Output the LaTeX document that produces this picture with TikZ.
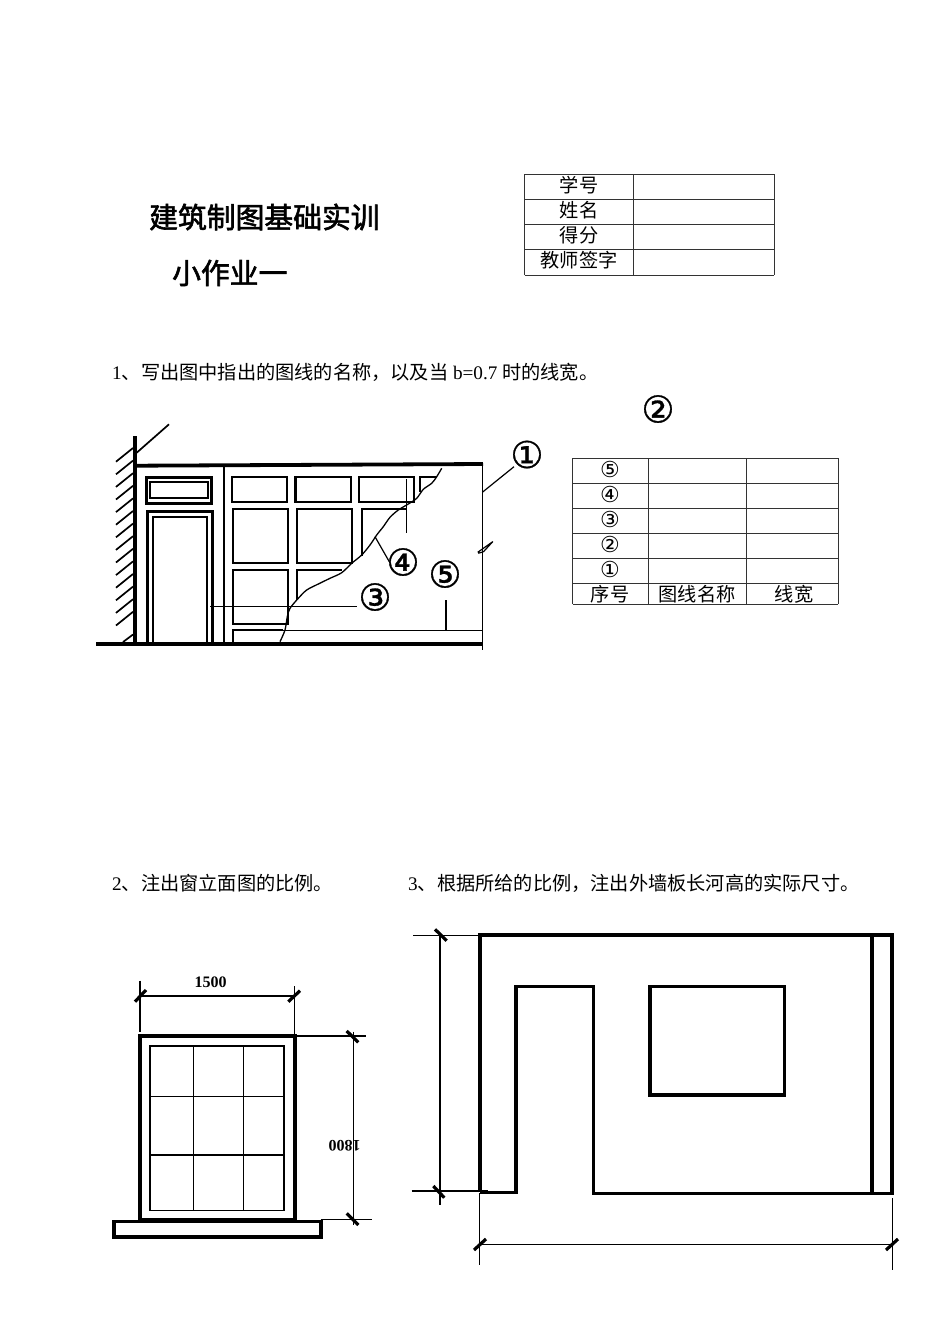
\documentclass[tikz,border=0pt]{standalone}
\usepackage{fontspec}
\setmainfont{Liberation Serif}
\newfontfamily\cjk{Noto Sans CJK SC}
\newfontfamily\cjktitle[FakeBold=2]{Noto Sans CJK SC}
\newfontfamily\circfont{DejaVu Sans}
\newfontfamily\circbold[FakeBold=0.8]{DejaVu Sans}
\newcommand{\bodysz}{\fontsize{19.2}{23}\selectfont}
\begin{document}
\begin{tikzpicture}[x=1pt,y=-1pt,
  thin line/.style={line width=1.2pt},
  med line/.style={line width=1.7pt},
  frame line/.style={line width=3pt},
  pane line/.style={line width=2.2pt},
  heavy line/.style={line width=3.8pt,line cap=butt},
  tick line/.style={line width=3.2pt},
  grid line/.style={line width=0.9pt,black!80},
  body text/.style={inner sep=0pt,anchor=west,font=\bodysz},
  title text/.style={inner sep=0pt,anchor=west,font=\cjktitle\fontsize{28.8}{32}\selectfont},
  cell text/.style={inner sep=0pt,font=\cjk\bodysz},
  cell num/.style={inner sep=0pt,font=\circfont\fontsize{22}{24}\selectfont},
  big num/.style={inner sep=0pt,font=\circbold\fontsize{37}{40}\selectfont},
  dim text/.style={inner sep=0pt,font=\bfseries\fontsize{16}{18}\selectfont}]
\useasboundingbox[fill=white] (0,0) rectangle (950,1342);

% ---------- Titles
\node[title text] (t1) at (149,217) {建筑制图基础实训};
\node[title text] (t2) at (172,273) {小作业一};

% ---------- Top-right table
\foreach \yy in {174,199.5,224.5,249.5,275} \draw[grid line] (524.5,\yy) -- (774,\yy);
\foreach \xx in {524.5,633,774} \draw[grid line] (\xx,174) -- (\xx,275);
\node[cell text] (a1) at (579,185) {学号};
\node[cell text] (a2) at (579,210) {姓名};
\node[cell text] (a3) at (579,235) {得分};
\node[cell text] (a4) at (579,260) {教师签字};

% ---------- Question texts
\node[body text] (q1) at (112,372) {1{\cjk 、写出图中指出的图线的名称，以及当} b=0.7 {\cjk 时的线宽。}};
\node[body text] (q2) at (112,883) {2{\cjk 、注出窗立面图的比例。}};
\node[body text] (q3) at (408,883) {3{\cjk 、根据所给的比例，注出外墙板长河高的实际尺寸。}};

% ---------- Right table of question 1
\foreach \yy in {458,483,508,533,558,583.5,604} \draw[grid line] (572.5,\yy) -- (838,\yy);
\foreach \xx in {572.5,648,746,838} \draw[grid line] (\xx,458) -- (\xx,604);
\node[cell num] (n5) at (610,469.5) {⑤};
\node[cell num] (n4) at (610,494) {④};
\node[cell num] (n3) at (610,519) {③};
\node[cell num] (n2) at (610,544) {②};
\node[cell num] (n1) at (610,569) {①};
\node[cell text] (h1) at (610,594) {序号};
\node[cell text] (h2) at (697,594) {图线名称};
\node[cell text] (h3) at (794,594) {线宽};

% ---------- Big callouts
\node[big num] (c1) at (527,454.5) {①};
\node[big num] (c2) at (658,409) {②};
\node[big num] (c3) at (375,597) {③};
\node[big num] (c4) at (403,562) {④};
\node[big num] (c5) at (445,574) {⑤};

% ---------- Facade: wall and hatching
\draw[heavy line] (135,436) -- (135,646);
\draw[heavy line] (136,465.7) -- (483,464);
\draw[line width=4pt] (96,644) -- (483,644);
\foreach \k in {0,...,13}
  \draw[med line] (116,461.7+\k*12.6) -- (133,448+\k*12.6);
\draw[med line] (123,642) -- (133,634.5);
\draw[med line] (136.7,452.7) -- (169,424.3);
\draw[med line] (224,466) -- (224,644);

% door and transom
\draw[frame line] (146.7,477.7) rectangle (211.3,503);
\draw[med line] (150.3,482.3) rectangle (207.7,498);
\draw[frame line] (147.7,644) -- (147.7,511.7) -- (212,511.7) -- (212,644);
\draw[med line] (152.7,644) -- (152.7,517) -- (206.7,517) -- (206.7,644);

% windows
\draw[pane line] (231.7,476.7) rectangle (286.7,501.7);
\draw[pane line] (295.5,476.7) rectangle (351,501.7);
\draw[pane line] (358.7,476.7) rectangle (414,501.7);
\draw[pane line] (437,476.7) -- (420,476.7) -- (420,491.5);
\draw[pane line] (232.7,508.7) rectangle (288.3,563.3);
\draw[pane line] (297,509) rectangle (352.3,563.3);
\draw[pane line] (406,509) -- (361.7,509) -- (361.7,556);
\draw[pane line] (232.7,570) rectangle (288.3,624);
\draw[pane line] (341.7,570) -- (297,570) -- (297,600);
\draw[pane line] (233.3,644) -- (233.3,630) -- (283,630);
\draw[thin line] (283,630.5) -- (483,630.5);

% crack
\draw[line width=1.3pt,line join=round] plot[smooth,tension=0.5] coordinates {
 (441.7,468.3) (436.7,476.7) (431.7,483.3) (423.3,489.3) (416.7,498.3) (408.3,504)
 (398.3,510) (390,517.3) (383.3,526.7) (376.7,535) (370,545) (361.7,555) (351.7,563.3)
 (341.7,572.7) (330,578.3) (318.3,584) (306.7,590) (298.3,598.3) (290,608.3) (287.3,616.7)
 (285,630) (280,641.7)};

% right edge, break mark and leaders
\draw[line width=1.4pt] (482.3,463) -- (482.3,650);
\draw[thin line,line join=round] (477.7,552.3) -- (492.7,541.7) -- (483.5,551.7) -- (478.3,553.3);
\coordinate (l1) at (482.3,492.3);
\coordinate (l2) at (406.7,533.3);
\coordinate (l3) at (210,606.7);
\coordinate (l4) at (375,536.7);
\coordinate (l5) at (446,630);
\draw[thin line] (l1) -- (514,466.7);
\draw[thin line] (406.7,479.3) -- (l2);
\draw[thin line] (l3) -- (357.3,606.7);
\draw[thin line] (l4) -- (389.3,561.7);
\draw[thin line] (l5) -- (446,600);

% ---------- Window (question 2)
\draw[line width=3.8pt] (140,1036) rectangle (294.7,1220);
\draw[thin line] (150,1046) rectangle (284,1210.7);
\draw[thin line] (193.3,1046) -- (193.3,1210.7);
\draw[thin line] (243.3,1046) -- (243.3,1210.7);
\draw[thin line] (150,1096.7) -- (284,1096.7);
\draw[thin line] (150,1155) -- (284,1155);
\draw[line width=3.8pt] (114,1221.5) rectangle (320.7,1237.3);
% dimensions
\draw[thin line] (140,980.7) -- (140,1031.7);
\draw[thin line] (294.7,986) -- (294.7,1036);
\draw[thin line] (140,996) -- (294.7,996);
\draw[tick line] (135,1001.7) -- (146,990);
\draw[tick line] (288.3,1001.7) -- (300,990.7);
\node[dim text] (d1) at (210.5,982) {1500};
\draw[thin line] (296.7,1036) -- (366,1036);
\draw[thin line] (320.7,1219.3) -- (371.7,1219.3);
\draw[thin line] (353.3,1031.7) -- (353.3,1225);
\draw[tick line] (346.7,1031) -- (358.3,1042.3);
\draw[tick line] (346.7,1213.3) -- (358.3,1225);
\node[dim text,rotate=180] (d2) at (344.5,1146) {1800};

% ---------- Wall panel (question 3)
\draw[line width=3.4pt,line join=miter] (480,1192) -- (480,935) -- (892,935) -- (892,1193.3) -- (592,1193.3);
\draw[line width=3.4pt,line join=miter] (593.7,1193.3) -- (593.7,986.7) -- (516,986.7) -- (516,1192.7) -- (480,1192.7);
\draw[line width=3.8pt] (872,935) -- (872,1193.3);
\draw[line width=3.4pt] (650,986.7) rectangle (784.3,1095);
% dimensions
\draw[thin line] (413.3,935.7) -- (480,935.7);
\draw[thin line] (411.7,1191) -- (488,1191);
\draw[thin line] (440,935.7) -- (440,1205);
\draw[tick line] (435,929.3) -- (446.7,940.7);
\draw[tick line] (433.3,1186) -- (444.3,1197.7);
\draw[thin line] (479.7,1193) -- (479.7,1265);
\draw[thin line] (892.7,1198.3) -- (892.7,1270);
\draw[thin line] (480,1244.3) -- (892.7,1244.3);
\draw[tick line] (474,1250) -- (486,1239);
\draw[tick line] (886,1250) -- (898,1239);
\end{tikzpicture}
\end{document}
